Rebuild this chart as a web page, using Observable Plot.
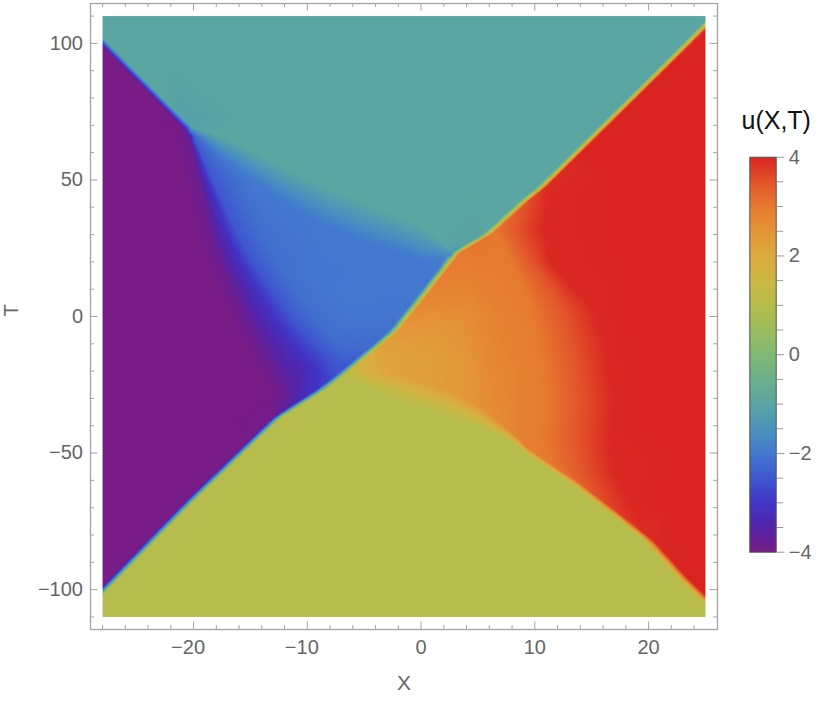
<!DOCTYPE html>
<html><head><meta charset="utf-8">
<script src="https://cdn.jsdelivr.net/npm/d3@7"></script>
<script src="https://cdn.jsdelivr.net/npm/@observablehq/plot@0.6"></script>
<style>
body{margin:0;background:#fff;}
#wrap{position:relative;width:826px;height:704px;overflow:hidden;font-family:"Liberation Sans",Arial,sans-serif;}
#wrap svg{position:absolute;}
</style></head><body><div id="wrap"></div>
<script>
// ---------- data ----------
// colour stops for u = -4 … 4 (step 0.5)
const colorStops = ["#781c86","#5424a8","#4035c6","#3f58cf","#4279cf","#4b93bd","#5ba5a2","#6cb08c","#80b974",
                    "#9cbd5e","#b6bd4c","#cbb844","#dcab3e","#e49637","#e67b30","#e2552a","#da2422"];

// main sharp kink (bottom-left to top-right): u on its upper-left / lower-right side
const mainKinkX = [-28.6,-28,-26,-24,-22,-20.3,-18.5,-16.5,-14.6,-12.65,-10.7,-8.84,-7.4,-5.9,-4.1,-2.38,-1.2,-0.03,1,2.03,2.9,4.3,5.85,7.5,9.07,10.55,14,17.9,21.5,25.6];
const mainKinkT = [-103,-100.4,-91.8,-83.2,-74.6,-67.4,-60.2,-52.2,-44.6,-36.9,-31.8,-27,-22.5,-17.4,-11.3,-5.2,1,7,12.5,18,22.9,26.5,30.2,36.5,42.4,47.3,61.4,77.4,92.2,109.2];
const mainKinkUpper = [-4,-4,-4,-4,-4,-4,-4,-4,-4,-3.9,-3.4,-3.0,-2.7,-2.45,-2.2,-2.1,-2.05,-2.0,-2.0,-1.95,-1.5,-1.1,-1,-1,-1,-1,-1,-1,-1,-1];
const mainKinkLower = [1,1,1,1,1,1,1,1,1,1,1,1,1.2,1.7,2.2,2.5,2.65,2.8,2.9,2.95,3.0,3.05,3.1,3.3,3.6,3.9,4,4,4,4];

// upper-left sharp kink (purple | teal)
const kinkAX = [-28.6,-28,-26.5,-25,-23.5,-22,-20.6];
const kinkAT = [102.9,100.4,94.1,87.8,81.5,75.2,69.3];
const kinkALeft = [-4,-4,-4,-4,-4,-4,-3.9];
const kinkARight = [-1,-1,-1,-1,-1,-1.05,-1.3];

// lower-right sharp kink (yellow | red)
const kinkDX = [9.67,11.5,13.5,15.5,17.7,19.95,21.5,22.88,24,25.6];
const kinkDT = [-50.3,-55.5,-61,-67.5,-74.5,-82,-89,-95.5,-100,-106.4];
const kinkDLeft = [1,1,1,1,1,1,1,1,1,1];
const kinkDRight = [2.95,3.1,3.35,3.6,3.85,3.95,4,4,4,4];

// diffuse teal | blue edge (centre line, u above / below, half-width in T)
const tealBlueX = [-20.2,-18,-15.9,-12,-8.6,-4.4,0,1.8,2.6];
const tealBlueT = [68.3,62.8,57.8,48,40.5,33.5,27,24.5,23.3];
const tealBlueAbove = [-1.05,-1,-1,-1,-1,-1,-1,-1,-1.05];
const tealBlueBelow = [-2.3,-2.05,-2.0,-2.0,-2.0,-2.0,-2.0,-1.9,-1.7];
const tealBlueHalf = [1.2,3.5,5,6,7,7,6,3,1];

// diffuse gold | yellow edge below the orange wedge
const goldYellowX = [-6.2,-3.5,-1,2.6,5,7,8.5,9.3];
const goldYellowT = [-21.5,-24.5,-27.5,-32,-36.5,-41.5,-46,-49.2];
const goldYellowAbove = [1.5,2.1,2.25,2.4,2.55,2.7,2.85,2.95];
const goldYellowBelow = [1,1,1,1,1,1,1,1];
const goldYellowHalf = [1.5,4,5,5,4,2.5,1.8,1.2];

// level lines of the diffuse purple | blue edge
const purpleOuterX = [-21.6,-21.28,-20.73,-20.18,-19.62,-18.86,-17.8,-16.74,-15.56,-14.25,-13.2];
const purpleOuterT = [66,60,50,40,30,20,10,0,-10,-20,-28];
const purpleEdgeX = [-20.45,-20.08,-19.53,-18.98,-18.42,-17.66,-16.6,-15.54,-14.36,-13.05,-12.0];
const purpleEdgeT = [66,60,50,40,30,20,10,0,-10,-20,-28];
const indigoX = [-20.1,-19.75,-18.92,-18.08,-17.24,-16.19,-14.84,-13.49,-11.78,-9.8];
const indigoT = [64,60,50,40,30,20,10,0,-10,-20];
const blueEdgeX = [-19.93,-19.43,-18.3,-17.18,-16.05,-14.71,-13.07,-11.44,-9.2,-7.6];
const blueEdgeT = [64,60,50,40,30,20,10,0,-10,-16];
const blueInnerX = [-16.3,-15.18,-14.05,-12.71,-11.07,-9.44,-7.2];
const blueInnerT = [50,40,30,20,10,0,-10];

// level lines of the diffuse orange | red edge
const orangeEdgeX = [6.6,7.9,9.2,9.8,10.6,11.1,10.8];
const orangeEdgeT = [30,20,8,0,-15,-30,-45];
const orangeRedX = [8.4,9.7,11.5,12.6,13.5,14,13.8,14.3];
const orangeRedT = [31,20,10,2,-15,-30,-45,-58];
const redEdgeX = [11.2,10.7,11.4,13.2,15,16.2,16.8,16.5,17.5,19];
const redEdgeT = [44,33,20,11,4,-10,-30,-50,-62,-74];

// plateau samples [X, T, u]
const purpleSamples = [[-28.6,80,-4],[-28.6,40,-4],[-28.6,0,-4],[-28.6,-40,-4],[-28.6,-80,-4],[-25,80,-4],[-25,60,-4],
  [-25,20,-4],[-25,-20,-4],[-23,-60,-4],[-22,40,-4],[-22,0,-4],[-22,60,-4],[-18,-40,-4],[-26,-85,-4],[-20,-30,-4]];
const tealSamples = [[-28.6,111,-1],[-20,111,-1],[-10,111,-1],[0,111,-1],[10,111,-1],[20,111,-1],[25.6,111,-1],
  [-26,106,-1],[-22,95,-1],[-12,85,-1],[0,70,-1],[8,90,-1],[16,100,-1],[-5,55,-1],[5,50,-1],[-15,72,-1],[22,108,-1],[-8,60,-1],[12,75,-1]];
const redSamples = [[25.6,90,4],[25.6,50,4],[25.6,0,4],[25.6,-50,4],[25.6,-90,4],[15,60,4],[18,50,4],[21,75,4],
  [20,20,4],[20,-30,4],[22,-70,4],[24,-90,4],[19,0,4]];
const yellowSamples = [[-28.6,-111,1],[-20,-111,1],[-10,-111,1],[0,-111,1],[10,-111,1],[20,-111,1],[25.6,-111,1],
  [-20,-100,1],[-15,-90,1],[-5,-60,1],[5,-80,1],[15,-95,1],[-8,-40,1],[2,-50,1],[10,-70,1],[20,-105,1],[-12,-70,1],[-4,-45,1]];
const blueWedgeSamples = [[-13,38,-2.05],[-9,28,-2.0],[-5,18,-2.0],[-6,5,-2.0],[-2,14,-2.0],[-10,15,-2.05],[-7,-5,-2.1],[-3.5,-1,-2.05]];
const orangeWedgeSamples = [[-2,-14,2.2],[1,-15,2.3],[0,-5,2.45],[3.5,-18,2.45],[4,0,2.65],[2.5,8,2.8],[5,15,2.95],
  [6,-25,2.7],[7,-10,2.85],[7.5,3,2.95],[9,-30,2.9],[9,-40,2.9],[5.5,22,3.0]];

// ticks
const xMajorTicks = [-20,-10,0,10,20];
const xMinorTicks = [-28,-26,-24,-22,-18,-16,-14,-12,-8,-6,-4,-2,2,4,6,8,12,14,16,18,22,24];
const yMajorTicks = [-100,-50,0,50,100];
const yMinorTicks = [-110,-90,-80,-70,-60,-40,-30,-20,-10,10,20,30,40,60,70,80,90,110];
const colorMajorTicks = [-4,-2,0,2,4];
const colorMinorTicks = [-3.5,-3,-2.5,-1.5,-1,-0.5,0.5,1,1.5,2.5,3,3.5];

// ---------- layout ----------
const WIDTH = 826, HEIGHT = 704, ML = 90, MR = 109, MT = 3, MB = 75;
const FW = WIDTH - ML - MR, FH = HEIGHT - MT - MB;
const xDomain = [-29.06, 26.06], yDomain = [-114.6, 114.6];
const pxPerX = FW / (xDomain[1] - xDomain[0]), pxPerT = FH / (yDomain[1] - yDomain[0]);

// ---------- build the sample table for the raster ----------
const samples = [];
// walk a polyline, calling emit(x, t, f, i) at its vertices and at sub-steps a few pixels apart
function walk(xs, ts, stepPx, emit) {
  for (let i = 0; i < xs.length; i++) {
    emit(xs[i], ts[i], 0, i);
    if (i + 1 < xs.length) {
      const len = Math.hypot((xs[i + 1] - xs[i]) * pxPerX, (ts[i + 1] - ts[i]) * pxPerT);
      const n = Math.ceil(len / stepPx);
      for (let k = 1; k < n; k++) {
        const f = k / n;
        emit(xs[i] + f * (xs[i + 1] - xs[i]), ts[i] + f * (ts[i + 1] - ts[i]), f, i);
      }
    }
  }
}
const lerpAt = (arr, i, f) => f === 0 ? arr[i] : arr[i] + f * (arr[i + 1] - arr[i]);
function addSharpKink(xs, ts, left, right, offX) {
  walk(xs, ts, 4, (x, t, f, i) => {
    samples.push({X: x - offX, T: t, u: lerpAt(left, i, f)});
    samples.push({X: x + offX, T: t, u: lerpAt(right, i, f)});
  });
}
function addVerticalRamp(xs, ts, above, below, half) {
  walk(xs, ts, 4, (x, t, f, i) => {
    const h = lerpAt(half, i, f);
    samples.push({X: x, T: t + h, u: lerpAt(above, i, f)});
    samples.push({X: x, T: t - h, u: lerpAt(below, i, f)});
  });
}
function addLevel(xs, ts, u) {
  walk(xs, ts, 6, (x, t) => samples.push({X: x, T: t, u}));
}
addSharpKink(mainKinkX, mainKinkT, mainKinkUpper, mainKinkLower, 0.4);
addSharpKink(kinkAX, kinkAT, kinkALeft, kinkARight, 0.4);
addSharpKink(kinkDX, kinkDT, kinkDLeft, kinkDRight, 0.45);
addVerticalRamp(tealBlueX, tealBlueT, tealBlueAbove, tealBlueBelow, tealBlueHalf);
addVerticalRamp(goldYellowX, goldYellowT, goldYellowAbove, goldYellowBelow, goldYellowHalf);
addLevel(purpleOuterX, purpleOuterT, -4);
addLevel(purpleEdgeX, purpleEdgeT, -3.8);
addLevel(indigoX, indigoT, -3.2);
addLevel(blueEdgeX, blueEdgeT, -2.5);
addLevel(blueInnerX, blueInnerT, -2.15);
addLevel(orangeEdgeX, orangeEdgeT, 3.0);
addLevel(orangeRedX, orangeRedT, 3.5);
addLevel(redEdgeX, redEdgeT, 3.96);
for (const arr of [purpleSamples, tealSamples, redSamples, yellowSamples, blueWedgeSamples, orangeWedgeSamples])
  for (const [X, T, u] of arr) samples.push({X, T, u});

const FONT = '"Liberation Sans", Arial, sans-serif';
const colorScale = {type: "linear", domain: [-4, 4], interpolate: d3.piecewise(d3.interpolateRgb, colorStops)};
const tickColor = "#a3a3a3";

const main = Plot.plot({
  width: WIDTH, height: HEIGHT,
  marginLeft: ML, marginRight: MR, marginTop: MT, marginBottom: MB,
  x: {domain: xDomain},
  y: {domain: yDomain},
  color: colorScale,
  style: {fontFamily: FONT, fontSize: "20px", color: "#666", background: "transparent", overflow: "visible"},
  marks: [
    Plot.raster(samples, {x: "X", y: "T", fill: "u", interpolate: "barycentric", x1: -28, x2: 25, y1: -110, y2: 110, pixelSize: 1}),
    Plot.frame({stroke: tickColor, strokeWidth: 1.3}),
    Plot.tickX(xMajorTicks, {x: d => d, insetTop: FH - 7.5, stroke: tickColor}),
    Plot.tickX(xMajorTicks, {x: d => d, insetBottom: FH - 7.5, stroke: tickColor}),
    Plot.tickX(xMinorTicks, {x: d => d, insetTop: FH - 4, stroke: tickColor}),
    Plot.tickX(xMinorTicks, {x: d => d, insetBottom: FH - 4, stroke: tickColor}),
    Plot.tickY(yMajorTicks, {y: d => d, insetRight: FW - 7.5, stroke: tickColor}),
    Plot.tickY(yMajorTicks, {y: d => d, insetLeft: FW - 7.5, stroke: tickColor}),
    Plot.tickY(yMinorTicks, {y: d => d, insetRight: FW - 4, stroke: tickColor}),
    Plot.tickY(yMinorTicks, {y: d => d, insetLeft: FW - 4, stroke: tickColor}),
    Plot.axisX(xMajorTicks.filter(v => v >= 0), {anchor: "bottom", tickSize: 0, tickPadding: 10, label: null, fill: "#666"}),
    Plot.axisX(xMajorTicks.filter(v => v < 0), {anchor: "bottom", tickSize: 0, tickPadding: 10, dx: -5.5, label: null, fill: "#666"}),
    Plot.axisY(yMajorTicks, {anchor: "left", tickSize: 0, tickPadding: 7.5, label: null, fill: "#666"}),
    Plot.text(["X"], {frameAnchor: "bottom", dy: 60, fontSize: 21, fill: "#666"}),
    Plot.text(["T"], {frameAnchor: "left", dx: -79, rotate: -90, fontSize: 20, fill: "#666"})
  ]
});
main.style.left = "0px"; main.style.top = "0px";

// colour bar
const BL = 730, BT = 90, BW = 96, BH = 480;
const bar = Plot.plot({
  width: BW, height: BH,
  marginLeft: 19.3, marginRight: 50.3, marginTop: 66.7, marginBottom: 18.3,
  x: {domain: [0, 1], axis: null},
  y: {domain: [-4, 4]},
  color: colorScale,
  style: {fontFamily: FONT, fontSize: "20px", color: "#666", background: "transparent", overflow: "visible"},
  marks: [
    Plot.raster({fill: (x, y) => y, x1: 0, x2: 1, y1: -4, y2: 4, pixelSize: 1}),
    Plot.frame({stroke: "#555", strokeWidth: 1}),
    Plot.axisY(colorMajorTicks, {anchor: "right", tickSize: 7.5, tickPadding: 5, label: null, stroke: "#999", fill: "#666"}),
    Plot.axisY(colorMinorTicks, {anchor: "right", tickSize: 6.5, text: null, label: null, stroke: "#999"}),
    Plot.text(["u(X,T)"], {frameAnchor: "top-left", dx: -8.3, dy: -28.7, textAnchor: "start", lineAnchor: "bottom", fontSize: 25, fill: "#111"})
  ]
});
bar.style.left = BL + "px"; bar.style.top = BT + "px";

const wrap = document.getElementById("wrap");
wrap.appendChild(main);
wrap.appendChild(bar);
</script></body></html>
